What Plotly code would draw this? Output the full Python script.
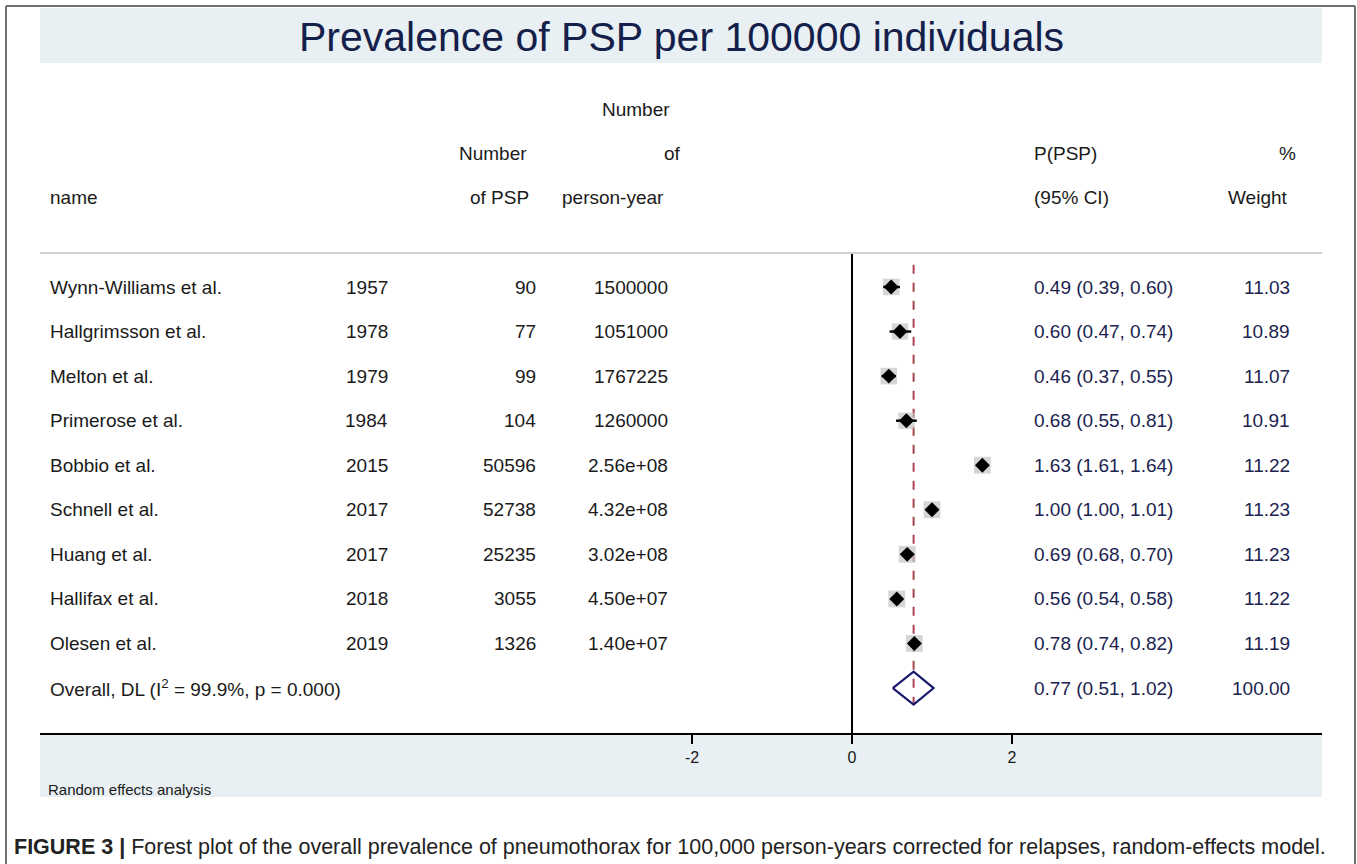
import plotly.graph_objects as go

# ---------------- data ----------------
names = ["Wynn-Williams et al.", "Hallgrimsson et al.", "Melton et al.", "Primerose et al.",
         "Bobbio et al.", "Schnell et al.", "Huang et al.", "Hallifax et al.", "Olesen et al."]
years = ["1957", "1978", "1979", "1984", "2015", "2017", "2017", "2018", "2019"]
n_psp = ["90", "77", "99", "104", "50596", "52738", "25235", "3055", "1326"]
person_years = ["1500000", "1051000", "1767225", "1260000", "2.56e+08", "4.32e+08",
                "3.02e+08", "4.50e+07", "1.40e+07"]
est = [0.49, 0.60, 0.46, 0.68, 1.63, 1.00, 0.69, 0.56, 0.78]
lo = [0.39, 0.47, 0.37, 0.55, 1.61, 1.00, 0.68, 0.54, 0.74]
hi = [0.60, 0.74, 0.55, 0.81, 1.64, 1.01, 0.70, 0.58, 0.82]
weights = [11.03, 10.89, 11.07, 10.91, 11.22, 11.23, 11.23, 11.22, 11.19]

overall_label = "Overall, DL (I<sup>2</sup> = 99.9%, p = 0.000)"
overall_est, overall_lo, overall_hi, overall_w = 0.77, 0.51, 1.02, 100.00

x_ticks = [-2, 0, 2]
x_ticklabels = ["-2", "0", "2"]

title_text = "Prevalence of PSP per 100000 individuals"
footnote = "Random effects analysis"
caption = ("<b>FIGURE 3 |</b> Forest plot of the overall prevalence of pneumothorax for 100,000 "
           "person-years corrected for relapses, random-effects model.")

# ---------------- layout geometry (pixels) ----------------
W, H = 1357, 864
PX_LEFT, PX_RIGHT = 40, 1322
PX_ZERO, PX_PER_UNIT = 852, 80
PY_TOP, PY_AXIS = 253, 733
ROW1_PY, ROW_STEP = 287, 44.56

def px(x):
    return x / W

def py(y):
    return (H - y) / H

x_range = [(PX_LEFT - PX_ZERO) / PX_PER_UNIT, (PX_RIGHT - PX_ZERO) / PX_PER_UNIT]
y_bottom = 1 + (PY_AXIS - ROW1_PY) / ROW_STEP
y_top = 1 - (ROW1_PY - PY_TOP) / ROW_STEP

rows = list(range(1, len(names) + 1))
overall_row = len(names) + 1

FONT = "Liberation Sans, Arial, sans-serif"
TXT = "#1a1a1a"
NUMC = "#1b2350"
BAND = "#e8f0f3"
FS = 19

fig = go.Figure()

# gray weight squares
fig.add_trace(go.Scatter(
    x=est, y=rows, mode="markers",
    marker=dict(symbol="square", size=[w * 1.5 for w in weights], color="#c4c4c4", line=dict(width=0)),
    hoverinfo="skip", showlegend=False))
# CI lines + point diamonds
fig.add_trace(go.Scatter(
    x=est, y=rows, mode="markers",
    marker=dict(symbol="diamond", size=11.5, color="black"),
    error_x=dict(type="data", symmetric=False,
                 array=[h - e for h, e in zip(hi, est)],
                 arrayminus=[e - l for e, l in zip(est, lo)],
                 color="black", thickness=2.4, width=0),
    showlegend=False))
# overall diamond
dh = 0.37
fig.add_trace(go.Scatter(
    x=[overall_lo, overall_est, overall_hi, overall_est, overall_lo],
    y=[overall_row, overall_row - dh, overall_row, overall_row + dh, overall_row],
    mode="lines", line=dict(color="#1a1a6e", width=2.2), fill="toself",
    fillcolor="rgba(255,255,255,0)", showlegend=False, hoverinfo="skip"))

shapes = []
# outer frame (left, top, right)
for (x0, y0, x1, y1) in [(6, 6, 6, H), (6, 6, W - 2, 6), (W - 2, 6, W - 2, H)]:
    shapes.append(dict(type="line", xref="paper", yref="paper", x0=px(x0), y0=py(y0), x1=px(x1), y1=py(y1),
                       line=dict(color="#707070", width=2)))
# title band and bottom band
shapes.append(dict(type="rect", xref="paper", yref="paper", x0=px(40), x1=px(1322), y0=py(63), y1=py(8),
                   fillcolor=BAND, line=dict(width=0), layer="below"))
shapes.append(dict(type="rect", xref="paper", yref="paper", x0=px(40), x1=px(1322), y0=py(797), y1=py(734),
                   fillcolor=BAND, line=dict(width=0), layer="below"))
# top separator line
shapes.append(dict(type="line", xref="paper", yref="paper", x0=px(40), x1=px(1322), y0=py(253), y1=py(253),
                   line=dict(color="#cfcfcf", width=2)))
# dashed overall line
shapes.append(dict(type="line", xref="x", yref="y", x0=overall_est, x1=overall_est, y0=0.5, y1=overall_row + dh,
                   line=dict(color="#a8434f", width=2, dash="dash"), layer="below"))

annotations = []

def ann(text, x, y, anchor="left", size=FS, color=TXT, yref="paper", family=FONT):
    annotations.append(dict(text=text, x=px(x), y=(py(y) if yref == "paper" else y),
                            xref="paper", yref=yref, xanchor=anchor, yanchor="middle",
                            showarrow=False, font=dict(family=family, size=size, color=color)))

ann(title_text, 681, 37, anchor="center", size=41, color="#14204a")
# headers
ann("Number", 672, 109, anchor="right")
ann("Number", 529, 154, anchor="right")
ann("of", 683, 154, anchor="right")
ann("name", 48, 198)
ann("of PSP", 531, 198, anchor="right")
ann("person-year", 666, 198, anchor="right")
ann("P(PSP)", 1032, 154)
ann("(95% CI)", 1032, 198)
ann("%", 1298, 154, anchor="right")
ann("Weight", 1290, 198, anchor="right")

for i, r in enumerate(rows):
    ann(names[i], 48, r, yref="y")
    ann(years[i], 390, r, anchor="right", yref="y")
    ann(n_psp[i], 538, r, anchor="right", yref="y")
    ann(person_years[i], 670, r, anchor="right", yref="y")
    ann(f"{est[i]:.2f} ({lo[i]:.2f}, {hi[i]:.2f})", 1032, r, yref="y", color=NUMC)
    ann(f"{weights[i]:.2f}", 1292, r, anchor="right", yref="y", color=NUMC)

ann(overall_label, 48, overall_row, yref="y")
ann(f"{overall_est:.2f} ({overall_lo:.2f}, {overall_hi:.2f})", 1032, overall_row, yref="y", color=NUMC)
ann(f"{overall_w:.2f}", 1292, overall_row, anchor="right", yref="y", color=NUMC)

ann(footnote, 46, 789, size=15)
ann(caption, 12, 847, size=21.5, color="#222222")

fig.update_layout(
    width=W, height=H, margin=dict(l=0, r=0, t=0, b=0),
    paper_bgcolor="white", plot_bgcolor="rgba(0,0,0,0)",
    shapes=shapes, annotations=annotations,
    xaxis=dict(domain=[px(PX_LEFT), px(PX_RIGHT)], range=x_range, tickvals=x_ticks, ticktext=x_ticklabels,
               ticks="outside", ticklen=9, tickwidth=1.5, tickcolor="black",
               showline=True, linecolor="black", linewidth=2, showgrid=False,
               zeroline=True, zerolinecolor="black", zerolinewidth=2,
               tickfont=dict(family=FONT, size=16, color=TXT), fixedrange=True),
    yaxis=dict(domain=[py(PY_AXIS), py(PY_TOP)], range=[y_bottom, y_top], showgrid=False,
               showticklabels=False, zeroline=False, showline=False, fixedrange=True),
    showlegend=False,
)

fig.write_html("out.html", config={"displayModeBar": False},
               post_script="document.body.style.margin='0';document.body.style.overflow='hidden';")
